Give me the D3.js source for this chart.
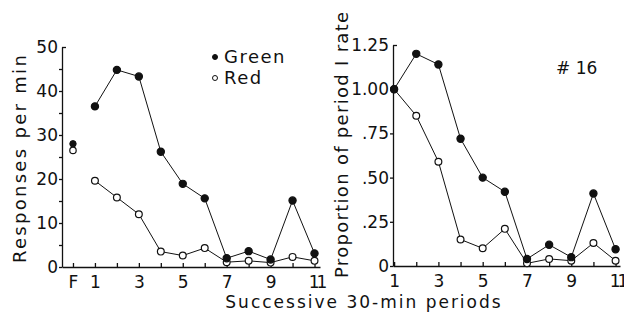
<!DOCTYPE html>
<html>
<head>
<meta charset="utf-8">
<script src="https://cdn.jsdelivr.net/npm/d3@7"></script>
<style>
  body { margin: 0; background: #fff; }
  svg { display: block; }
  text { font-family: "DejaVu Sans", sans-serif; fill: #111; }
  .axis path, .axis line { stroke: #111; stroke-width: 1.3; }
</style>
</head>
<body>
<div id="chart"></div>
<script>
// periods 1..11, "F" is the final value shown at 0 on the left panel
const periods = [1, 2, 3, 4, 5, 6, 7, 8, 9, 10, 11];
const finalLabel = "F";
const greenFinal = 28.0;
const redFinal = 26.5;
const greenRate = [36.5, 44.8, 43.3, 26.2, 18.9, 15.6, 2.0, 3.6, 1.7, 15.1, 3.1];
const redRate = [19.6, 15.8, 12.0, 3.5, 2.6, 4.3, 1.1, 1.4, 1.0, 2.3, 1.4];
const greenProp = [1.00, 1.20, 1.14, 0.72, 0.50, 0.42, 0.04, 0.12, 0.05, 0.41, 0.095];
const redProp = [1.00, 0.85, 0.59, 0.15, 0.10, 0.21, 0.015, 0.04, 0.03, 0.13, 0.03];

const leftYTicks = [0, 5, 10, 15, 20, 25, 30, 35, 40, 45, 50];
const leftYLabels = {0: "0", 10: "10", 20: "20", 30: "30", 40: "40", 50: "50"};
const rightYTicks = [0, 0.25, 0.5, 0.75, 1.0, 1.25];
const rightYLabels = ["0", ".25", ".50", ".75", "1.00", "1.25"];
const xLabelled = [1, 3, 5, 7, 9, 11];
const legendItems = ["Green", "Red"];
const subjectLabel = "# 16";

const width = 624, height = 320;
const svg = d3.select("#chart").append("svg")
    .attr("width", width)
    .attr("height", height);

// ---- left panel: responses per min
const xL = d3.scaleLinear().domain([-0.5, 11.25]).range([62, 320]);
const yL = d3.scaleLinear().domain([0, 50]).range([267, 47]);

// ---- right panel: proportion of period 1 rate
const xR = d3.scaleLinear().domain([0.95, 11.2]).range([393, 620]);
const yR = d3.scaleLinear().domain([0, 1.25]).range([266, 45]);

function drawYAxis(x0, y, ticks, fmt) {
    const g = svg.append("g")
        .attr("class", "axis")
        .attr("transform", "translate(" + x0 + ",0)")
        .call(d3.axisLeft(y).tickValues(ticks).tickFormat(fmt)
            .tickSizeInner(3).tickSizeOuter(0).tickPadding(1));
    g.selectAll("text").style("font-size", "17px");
    // top tick turns right
    g.selectAll(".tick").filter(d => d === ticks[ticks.length - 1])
        .select("line").attr("x2", 4);
    return g;
}

function drawXAxis(y0, x, ticks, fmt) {
    const g = svg.append("g")
        .attr("class", "axis")
        .attr("transform", "translate(0," + y0 + ")")
        .call(d3.axisBottom(x).tickValues(ticks).tickFormat(fmt)
            .tickSizeInner(-4).tickSizeOuter(0).tickPadding(9));
    g.selectAll("text").style("font-size", "17px");
    // the "11" is set tight, as in the original lettering
    g.selectAll(".tick text").filter(d => d === 11)
        .style("letter-spacing", "-3px").attr("dx", "1.5");
    return g;
}

drawYAxis(xL.range()[0], yL, leftYTicks, d => leftYLabels[d] || "");
drawXAxis(yL(0), xL, [0].concat(periods),
    d => d === 0 ? finalLabel : (xLabelled.includes(d) ? String(d) : ""));

drawYAxis(xR.range()[0], yR, rightYTicks, (d, i) => rightYLabels[i]);
drawXAxis(yR(0), xR, periods, d => xLabelled.includes(d) ? String(d) : "");

function drawSeries(x, y, values, filled) {
    const pts = periods.map((p, i) => [p, values[i]]);
    svg.append("path")
        .datum(pts)
        .attr("fill", "none")
        .attr("stroke", "#111")
        .attr("stroke-width", 1)
        .attr("d", d3.line().x(d => x(d[0])).y(d => y(d[1])));
    svg.append("g").selectAll("circle")
        .data(pts).enter()
        .append("circle")
        .attr("cx", d => x(d[0]))
        .attr("cy", d => y(d[1]))
        .attr("r", filled ? 3.6 : 3.4)
        .attr("fill", filled ? "#111" : "#fff")
        .attr("stroke", "#111")
        .attr("stroke-width", 1.2);
}

drawSeries(xL, yL, redRate, false);
drawSeries(xL, yL, greenRate, true);
drawSeries(xR, yR, redProp, false);
drawSeries(xR, yR, greenProp, true);

// F points (not joined)
svg.append("circle").attr("cx", xL(0)).attr("cy", yL(greenFinal)).attr("r", 3.2)
    .attr("fill", "#111").attr("stroke", "#111");
svg.append("circle").attr("cx", xL(0)).attr("cy", yL(redFinal)).attr("r", 3.2)
    .attr("fill", "#fff").attr("stroke", "#111").attr("stroke-width", 1.2);

// legend
const legend = svg.append("g").attr("transform", "translate(215,57)");
legendItems.forEach((name, i) => {
    legend.append("circle")
        .attr("cx", 0).attr("cy", i * 21).attr("r", 2.5)
        .attr("fill", i === 0 ? "#111" : "#fff")
        .attr("stroke", "#111").attr("stroke-width", 1);
    legend.append("text")
        .attr("x", 9).attr("y", i * 21).attr("dy", "0.36em")
        .style("font-size", "18px").style("letter-spacing", "1.5px")
        .text(name);
});

svg.append("text")
    .attr("x", 556).attr("y", 68).attr("dy", "0.36em")
    .style("font-size", "17px")
    .text(subjectLabel);

// axis titles
svg.append("text")
    .attr("transform", "translate(26,158) rotate(-90)")
    .attr("text-anchor", "middle")
    .style("font-size", "18px").style("letter-spacing", "2.3px")
    .text("Responses per min");

svg.append("text")
    .attr("transform", "translate(348,278) rotate(-90)")
    .attr("text-anchor", "start")
    .style("font-size", "18px").style("letter-spacing", "1.3px")
    .text("Proportion of period I rate");

svg.append("text")
    .attr("x", 364).attr("y", 308)
    .attr("text-anchor", "middle")
    .style("font-size", "17px").style("letter-spacing", "2px")
    .text("Successive  30-min periods");
</script>
</body>
</html>
